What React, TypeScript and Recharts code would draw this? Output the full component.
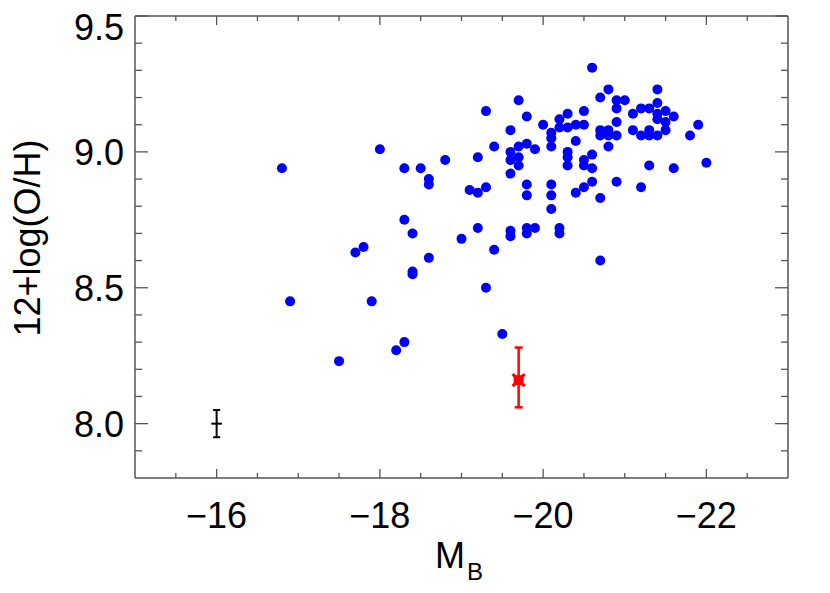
import { ScatterChart, Scatter, XAxis, YAxis, ErrorBar } from "recharts";

const FONT = '"Liberation Sans", Arial, Helvetica, sans-serif';
const AXIS = "#555";

// tick positions (minor every 0.5 / 0.1, labelled majors)
const xTicks = [-15.5, -16, -16.5, -17, -17.5, -18, -18.5, -19, -19.5, -20, -20.5, -21, -21.5, -22, -22.5];
const xMajor = [-16, -18, -20, -22];
const yTicks = [7.9, 8.0, 8.1, 8.2, 8.3, 8.4, 8.5, 8.6, 8.7, 8.8, 8.9, 9.0, 9.1, 9.2, 9.3, 9.4, 9.5];
const yMajor = [8.0, 8.5, 9.0, 9.5];

// galaxies: [M_B, 12+log(O/H)]
const galaxies: [number, number][] = [
  [-16.8, 8.94], [-18.0, 9.01], [-18.3, 8.94], [-18.5, 8.94], [-18.8, 8.97],
  [-18.6, 8.9], [-18.6, 8.88], [-18.3, 8.75], [-18.4, 8.7], [-19.0, 8.68],
  [-17.8, 8.65], [-17.7, 8.63], [-18.6, 8.61], [-18.4, 8.56], [-18.4, 8.55],
  [-16.9, 8.45], [-17.9, 8.45], [-18.3, 8.3], [-18.2, 8.27], [-17.5, 8.23],
  [-19.4, 8.64], [-20.7, 8.6], [-19.3, 8.5], [-19.5, 8.33],
  [-20.6, 9.31], [-20.8, 9.23], [-21.4, 9.23], [-20.7, 9.2], [-20.9, 9.19],
  [-21.0, 9.19], [-19.7, 9.19], [-21.4, 9.18], [-20.9, 9.16], [-21.2, 9.16],
  [-21.3, 9.16], [-21.5, 9.15], [-19.3, 9.15], [-20.5, 9.15], [-21.1, 9.14],
  [-20.3, 9.14], [-21.4, 9.14], [-21.6, 9.13], [-19.8, 9.13], [-20.2, 9.12],
  [-21.4, 9.12], [-21.5, 9.11], [-20.9, 9.11], [-20.0, 9.1], [-20.2, 9.09],
  [-20.3, 9.09], [-20.4, 9.1], [-20.5, 9.1], [-21.9, 9.1], [-19.6, 9.08],
  [-20.1, 9.07], [-20.7, 9.08], [-20.8, 9.08], [-21.1, 9.08], [-21.3, 9.08],
  [-21.5, 9.08], [-20.7, 9.06], [-20.8, 9.06], [-20.9, 9.06], [-21.2, 9.06],
  [-21.3, 9.06], [-21.4, 9.06], [-21.8, 9.06], [-20.1, 9.05], [-20.4, 9.04],
  [-20.1, 9.02], [-19.4, 9.02], [-19.7, 9.02], [-19.8, 9.03], [-19.9, 9.01],
  [-20.8, 9.02], [-19.6, 9.0], [-20.3, 9.0], [-20.6, 8.99], [-19.2, 8.98],
  [-19.7, 8.98], [-19.6, 8.97], [-20.3, 8.98], [-20.5, 8.97], [-22.0, 8.96],
  [-19.7, 8.95], [-20.3, 8.95], [-20.5, 8.95], [-21.3, 8.95], [-20.6, 8.94],
  [-21.6, 8.94], [-19.6, 8.92], [-19.8, 8.88], [-20.1, 8.88], [-20.6, 8.89],
  [-20.9, 8.89], [-20.5, 8.87], [-21.2, 8.87], [-19.1, 8.86], [-19.2, 8.85],
  [-19.3, 8.87], [-19.8, 8.84], [-20.1, 8.84], [-20.4, 8.85], [-20.7, 8.83],
  [-20.1, 8.79], [-19.2, 8.72], [-19.6, 8.71], [-19.6, 8.69], [-19.8, 8.72],
  [-19.8, 8.7], [-19.9, 8.72], [-20.2, 8.72], [-20.2, 8.7],
];

// red object with asymmetric error, typical error bar in the corner
const target = [{ x: -19.7, y: 8.16, errY: [0.1, 0.12] }];
const typicalError = [{ x: -16.0, y: 8.0, errY: 0.05, errX: 0.065 }];

const galaxyData = galaxies.map(([x, y]) => ({ x, y }));

function BottomTick({ x, y, payload }: any) {
  const major = xMajor.includes(payload.value);
  return (
    <g>
      <line x1={x} x2={x} y1={y} y2={y - (major ? 9 : 5)} stroke={AXIS} strokeWidth={1.3} />
      {major && (
        <text x={x} y={y + 50} textAnchor="middle" fontSize={36} fontFamily={FONT} fill="#000">
          {"\u2212" + Math.abs(payload.value)}
        </text>
      )}
    </g>
  );
}

function TopTick({ x, y, payload }: any) {
  const major = xMajor.includes(payload.value);
  return <line x1={x} x2={x} y1={y} y2={y + (major ? 9 : 5)} stroke={AXIS} strokeWidth={1.3} />;
}

function LeftTick({ x, y, payload }: any) {
  const major = yMajor.includes(payload.value);
  const cy = Math.max(y, 27);
  return (
    <g>
      <line x1={x} x2={x + (major ? 13 : 7)} y1={y} y2={y} stroke={AXIS} strokeWidth={1.3} />
      {major && (
        <text x={x - 11} y={cy + 13} textAnchor="end" fontSize={36} fontFamily={FONT} fill="#000">
          {payload.value.toFixed(1)}
        </text>
      )}
    </g>
  );
}

function RightTick({ x, y, payload }: any) {
  const major = yMajor.includes(payload.value);
  return <line x1={x} x2={x - (major ? 13 : 7)} y1={y} y2={y} stroke={AXIS} strokeWidth={1.3} />;
}

const Dot = ({ cx, cy }: any) => <circle cx={cx} cy={cy} r={5} fill="#0000ff" />;

const RedMark = ({ cx, cy }: any) => (
  <g>
    <rect x={cx - 5} y={cy - 5} width={10} height={10} fill="#ff0000" />
    <line x1={cx - 6} y1={cy - 6} x2={cx + 6} y2={cy + 6} stroke="#ff0000" strokeWidth={3} />
    <line x1={cx - 6} y1={cy + 6} x2={cx + 6} y2={cy - 6} stroke="#ff0000" strokeWidth={3} />
  </g>
);

const NoMark = () => <g />;

export default function App() {
  return (
    <div style={{ width: 830, height: 593, background: "#fff" }}>
      <style>{"body{margin:0}"}</style>
      <ScatterChart width={830} height={593} margin={{ top: 15, right: 0, bottom: 0, left: 0 }}>
        <XAxis
          xAxisId="b"
          type="number"
          dataKey="x"
          domain={[-23, -15]}
          reversed
          ticks={xTicks}
          interval={0}
          height={115}
          tickSize={0}
          tickMargin={0}
          tick={<BottomTick />}
          axisLine={{ stroke: AXIS, strokeWidth: 1.5 }}
          allowDataOverflow
          label={{
            position: "insideTop",
            content: () => (
              <text x={459} y={568} textAnchor="middle" fontFamily={FONT} fill="#000">
                <tspan fontSize={36}>M</tspan>
                <tspan fontSize={24} dx={2} dy={12}>B</tspan>
              </text>
            ),
          }}
        />
        <XAxis
          xAxisId="t"
          orientation="top"
          type="number"
          dataKey="x"
          domain={[-23, -15]}
          reversed
          ticks={xTicks}
          interval={0}
          height={1}
          tickSize={0}
          tickMargin={0}
          tick={<TopTick />}
          axisLine={{ stroke: AXIS, strokeWidth: 1.5 }}
          allowDataOverflow
        />
        <YAxis
          yAxisId="l"
          type="number"
          dataKey="y"
          domain={[7.8, 9.5]}
          ticks={yTicks}
          interval={0}
          width={135}
          tickSize={0}
          tickMargin={0}
          tick={<LeftTick />}
          axisLine={{ stroke: AXIS, strokeWidth: 1.5 }}
          allowDataOverflow
          label={{
            position: "insideLeft",
            content: () => (
              <text
                x={40}
                y={238}
                transform="rotate(-90,40,238)"
                textAnchor="middle"
                fontSize={36}
                fontFamily={FONT}
                fill="#000"
              >
                12+log(O/H)
              </text>
            ),
          }}
        />
        <YAxis
          yAxisId="r"
          orientation="right"
          type="number"
          dataKey="y"
          domain={[7.8, 9.5]}
          ticks={yTicks}
          interval={0}
          width={42}
          tickSize={0}
          tickMargin={0}
          tick={<RightTick />}
          axisLine={{ stroke: AXIS, strokeWidth: 1.5 }}
          allowDataOverflow
        />
        <Scatter xAxisId="b" yAxisId="l" data={galaxyData} shape={<Dot />} isAnimationActive={false} />
        <Scatter xAxisId="b" yAxisId="l" data={typicalError} shape={<NoMark />} isAnimationActive={false}>
          <ErrorBar dataKey="errY" direction="y" width={3.5} stroke="#000" strokeWidth={2} />
          <ErrorBar dataKey="errX" direction="x" width={0} stroke="#000" strokeWidth={2} />
        </Scatter>
        <Scatter xAxisId="b" yAxisId="l" data={target} shape={<RedMark />} isAnimationActive={false}>
          <ErrorBar dataKey="errY" direction="y" width={4} stroke="#ff0000" strokeWidth={2.5} />
        </Scatter>
      </ScatterChart>
    </div>
  );
}
